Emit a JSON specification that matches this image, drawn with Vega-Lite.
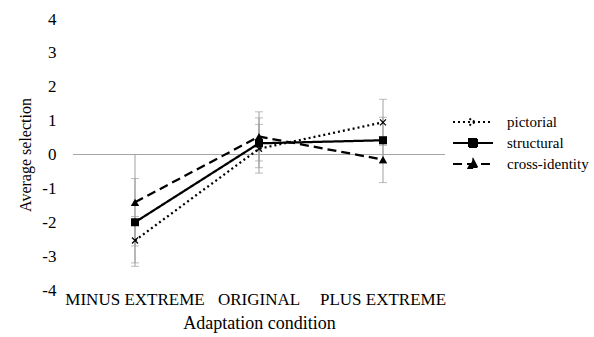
{
  "$schema": "https://vega.github.io/schema/vega-lite/v6.json",
  "width": 372,
  "height": 271,
  "autosize": "none",
  "padding": {"left": 73, "top": 19, "right": 149, "bottom": 47},
  "background": "white",
  "config": {
    "font": "Liberation Serif",
    "view": {"stroke": null},
    "axisY": {
      "grid": false,
      "domain": false,
      "ticks": false,
      "labelFontSize": 17,
      "labelColor": "black",
      "labelPadding": 17,
      "labelOverlap": false,
      "titleFontSize": 16,
      "titleFontWeight": "normal",
      "titleColor": "black",
      "titlePadding": 8
    },
    "axisX": {
      "labelAngle": 0,
      "labelFontSize": 17,
      "labelColor": "black",
      "labelPadding": 1,
      "domain": false,
      "ticks": false,
      "titleFontSize": 18,
      "titleFontWeight": "normal",
      "titleColor": "black",
      "titlePadding": 7
    },
    "legend": {"labelFontSize": 15, "labelColor": "black"}
  },
  "data": {
    "values": [
      {"cond": "MINUS EXTREME", "series": "pictorial", "value": -2.54, "lo": -3.2, "hi": -1.83},
      {"cond": "MINUS EXTREME", "series": "structural", "value": -2.0, "lo": -3.3, "hi": -0.71},
      {"cond": "MINUS EXTREME", "series": "cross-identity", "value": -1.41, "lo": -2.7, "hi": 0.0},
      {"cond": "ORIGINAL", "series": "pictorial", "value": 0.17, "lo": -0.55, "hi": 0.89},
      {"cond": "ORIGINAL", "series": "structural", "value": 0.33, "lo": -0.39, "hi": 1.08},
      {"cond": "ORIGINAL", "series": "cross-identity", "value": 0.53, "lo": -0.19, "hi": 1.26},
      {"cond": "PLUS EXTREME", "series": "pictorial", "value": 0.95, "lo": 0.27, "hi": 1.63},
      {"cond": "PLUS EXTREME", "series": "structural", "value": 0.42, "lo": -0.26, "hi": 1.1},
      {"cond": "PLUS EXTREME", "series": "cross-identity", "value": -0.15, "lo": -0.83, "hi": 0.53}
    ]
  },
  "encoding": {
    "x": {
      "field": "cond",
      "type": "nominal",
      "scale": {"domain": ["MINUS EXTREME", "ORIGINAL", "PLUS EXTREME"], "paddingInner": 0, "paddingOuter": 0},
      "axis": {"title": "Adaptation condition"}
    }
  },
  "layer": [
    {
      "mark": {"type": "rule", "color": "#a6a6a6", "strokeWidth": 1},
      "encoding": {
        "y": {"datum": 0, "type": "quantitative", "scale": {"domain": [-4, 4], "nice": false},
              "axis": {"title": "Average selection", "values": [-4, -3, -2, -1, 0, 1, 2, 3, 4], "labelExpr": "'' + datum.value"}},
        "x": null
      }
    },
    {
      "mark": {"type": "rule", "color": "#a0a0a0", "strokeWidth": 1},
      "encoding": {
        "y": {"field": "lo", "type": "quantitative",
              "axis": {"title": "Average selection", "values": [-4, -3, -2, -1, 0, 1, 2, 3, 4], "labelExpr": "'' + datum.value"}},
        "y2": {"field": "hi"}
      }
    },
    {
      "mark": {"type": "tick", "color": "#a0a0a0", "thickness": 1, "size": 8},
      "encoding": {"y": {"field": "lo", "type": "quantitative",
              "axis": {"title": "Average selection", "values": [-4, -3, -2, -1, 0, 1, 2, 3, 4], "labelExpr": "'' + datum.value"}}}
    },
    {
      "mark": {"type": "tick", "color": "#a0a0a0", "thickness": 1, "size": 8},
      "encoding": {"y": {"field": "hi", "type": "quantitative",
              "axis": {"title": "Average selection", "values": [-4, -3, -2, -1, 0, 1, 2, 3, 4], "labelExpr": "'' + datum.value"}}}
    },
    {
      "mark": {"type": "line", "color": "black", "strokeWidth": 2.25},
      "encoding": {
        "y": {
          "field": "value",
          "type": "quantitative",
          "axis": {"title": "Average selection", "values": [-4, -3, -2, -1, 0, 1, 2, 3, 4], "labelExpr": "'' + datum.value"}
        },
        "strokeDash": {
          "field": "series",
          "type": "nominal",
          "scale": {
            "domain": ["pictorial", "structural", "cross-identity"],
            "range": [[2, 3], [1, 0], [9, 5]]
          },
          "legend": {
            "title": null,
            "orient": "none",
            "legendX": 389,
            "legendY": 92,
            "padding": 0,
            "symbolSize": 400,
            "symbolStrokeWidth": 2,
            "symbolStrokeColor": "black",
            "labelOffset": 23,
            "rowPadding": 2,
            "encode": {
              "symbols": {
                "update": {
                  "shape": {"signal": "datum.value === 'pictorial' ? 'M-2,0L2,0M-0.35,-0.35L0.35,0.35M-0.35,0.35L0.35,-0.35' : datum.value === 'structural' ? 'M-2,0L2,0M-0.4,-0.4L0.4,-0.4L0.4,0.4L-0.4,0.4Z' : 'M-2,0L2,0M0,-0.45L0.45,0.4L-0.45,0.4Z'"},
                  "fill": {"value": "black"},
                  "stroke": {"value": "black"}
                }
              }
            }
          }
        }
      }
    },
    {
      "transform": [{"filter": "datum.series === 'pictorial'"}],
      "mark": {"type": "point", "shape": "M-1,-1L1,1M-1,1L1,-1", "filled": false, "stroke": "black", "strokeWidth": 1.2, "size": 36, "opacity": 1},
      "encoding": {"y": {"field": "value", "type": "quantitative",
              "axis": {"title": "Average selection", "values": [-4, -3, -2, -1, 0, 1, 2, 3, 4], "labelExpr": "'' + datum.value"}}}
    },
    {
      "transform": [{"filter": "datum.series === 'structural'"}],
      "mark": {"type": "point", "shape": "square", "filled": true, "fill": "black", "size": 64, "opacity": 1},
      "encoding": {"y": {"field": "value", "type": "quantitative",
              "axis": {"title": "Average selection", "values": [-4, -3, -2, -1, 0, 1, 2, 3, 4], "labelExpr": "'' + datum.value"}}}
    },
    {
      "transform": [{"filter": "datum.series === 'cross-identity'"}],
      "mark": {"type": "point", "shape": "triangle-up", "filled": true, "fill": "black", "size": 70, "opacity": 1},
      "encoding": {"y": {"field": "value", "type": "quantitative",
              "axis": {"title": "Average selection", "values": [-4, -3, -2, -1, 0, 1, 2, 3, 4], "labelExpr": "'' + datum.value"}}}
    }
  ]
}
